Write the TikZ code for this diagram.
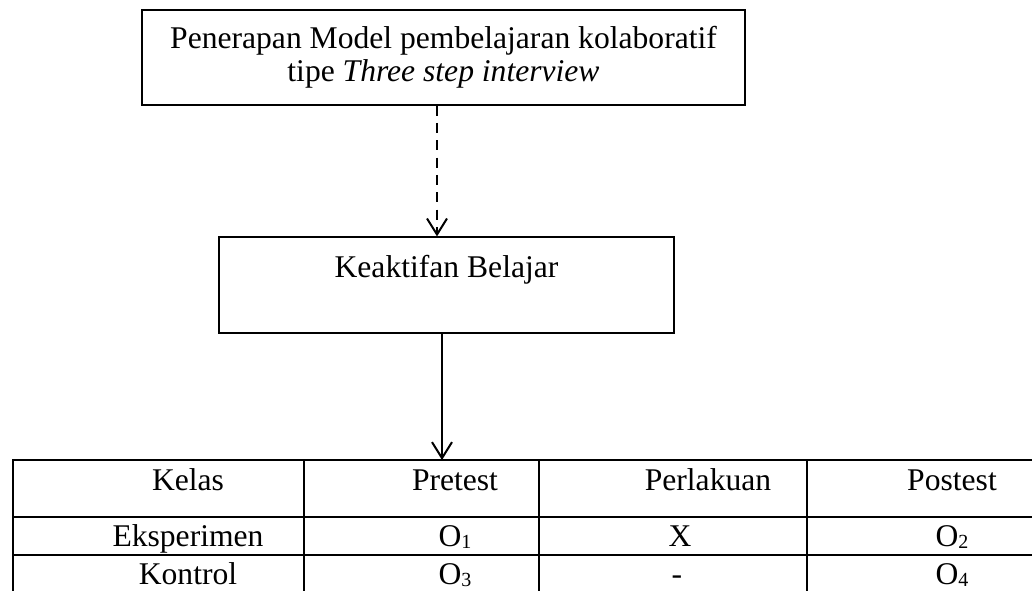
\documentclass[tikz,border=0pt]{standalone}
\usepackage{fontspec}
\setmainfont{Liberation Serif}
\usetikzlibrary{arrows.meta}
\newcommand{\subdig}[1]{\raisebox{-0.2ex}{\fontsize{15}{15}\selectfont #1}}
\tikzset{
  boxnode/.style={draw=black, line width=0.9pt, rectangle, inner sep=0pt},
  txt/.style={anchor=base, inner sep=0pt, font=\fontsize{23.7}{26}\selectfont},
  gridline/.style={line width=1.6pt, line cap=rect},
  conn/.style={line width=1.5pt, -{Straight Barb[length=12pt, width=15pt, line width=1.5pt]}},
  dashconn/.style={conn, dash pattern=on 7.5pt off 5.5pt},
}
\begin{document}
\begin{tikzpicture}[x=0.75pt, y=-0.75pt]
\useasboundingbox (0,0) rectangle (1032,590);
% top box
\node[boxnode, minimum width=452.25pt, minimum height=71.25pt] (model) at (443.5,57.5) {};
\node[txt] (model1) at (443.5,48) {Penerapan Model pembelajaran kolaboratif};
\node[txt] (model2) at (443.5,81) {tipe \textit{Three step interview}};
% middle box
\node[boxnode, minimum width=341.25pt, minimum height=72pt] (keak) at (446.5,285) {};
\node[txt] (keaktxt) at (446.5,277) {Keaktifan Belajar};
% connector helpers
\coordinate (dashx) at (437,0);
\coordinate (solx) at (442,0);
\coordinate (tabtop) at (442,460);
\draw[dashconn] (model.south -| dashx) -- (keak.north -| dashx);
\draw[conn] (keak.south -| solx) -- (tabtop);
% table grid
\draw[gridline] (13,460) -- (1040,460);
\draw[gridline] (13,517) -- (1040,517);
\draw[gridline] (13,555) -- (1040,555);
\foreach \cx in {13,304,539,807} \draw[gridline] (\cx,460) -- (\cx,600);
% table text
\node[txt] (h1) at (188,490) {Kelas};
\node[txt] (h2) at (455,490) {Pretest};
\node[txt] (h3) at (708,490) {Perlakuan};
\node[txt] (h4) at (952,490) {Postest};
\node[txt] (r1c1) at (188,546) {Eksperimen};
\node[txt] (r1c2) at (455,546) {O\subdig{1}};
\node[txt] (r1c3) at (680,546) {X};
\node[txt] (r1c4) at (952,546) {O\subdig{2}};
\node[txt] (r2c1) at (188,584) {Kontrol};
\node[txt] (r2c2) at (455,584) {O\subdig{3}};
\node[txt] (r2c3) at (677,584) {-};
\node[txt] (r2c4) at (952,584) {O\subdig{4}};
\end{tikzpicture}
\end{document}
